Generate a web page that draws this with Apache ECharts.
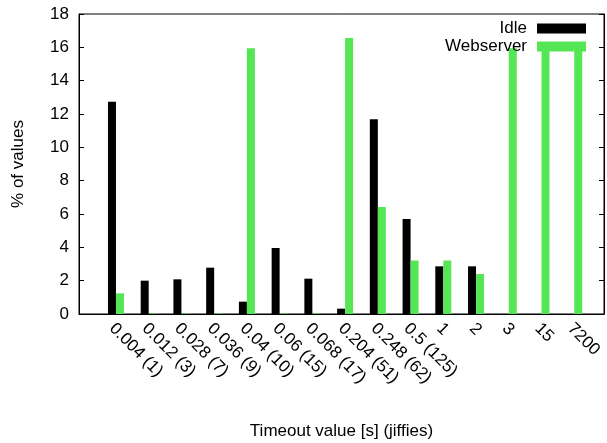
<!DOCTYPE html>
<html><head><meta charset="utf-8">
<script src="https://cdn.jsdelivr.net/npm/echarts@6/dist/echarts.min.js"></script>
<style>html,body{margin:0;padding:0;background:#fff}#c{width:607px;height:443px}</style>
</head><body><div id="c"></div>
<script>
const categories = ['0.004 (1)','0.012 (3)','0.028 (7)','0.036 (9)','0.04 (10)','0.06 (15)','0.068 (17)','0.204 (51)','0.248 (62)','0.5 (125)','1','2','3','15','7200'];
const idle = [12.74, 2.0, 2.08, 2.78, 0.74, 3.96, 2.12, 0.32, 11.68, 5.7, 2.86, 2.86, 0, 0, 0];
const webserver = [1.24, 0.03, 0.03, 0.03, 15.95, 0.03, 0.03, 16.56, 6.42, 3.21, 3.21, 2.4, 15.95, 16.05, 16.05];
const yMin = 0, yMax = 18, yStep = 2;

const FONT = 'Liberation Sans, Arial, Helvetica, sans-serif';
const TOP = 14, BOTTOM = 129;
const chart = echarts.init(document.getElementById('c'), null, {renderer: 'canvas'});
const hiddenY = (gi) => ({type:'value', gridIndex: gi, min: yMin, max: yMax, interval: yStep, show: false});
chart.setOption({
  animation: false,
  backgroundColor: '#fff',
  textStyle: {fontFamily: FONT},
  grid: [
    {left: 79, right: 3, top: TOP, bottom: BOTTOM, show: true, borderColor: '#000', borderWidth: 1, backgroundColor: 'transparent', containLabel: false, outerBoundsMode: 'none'},
    {left: 95.6, right: 20.4, top: TOP, bottom: BOTTOM, containLabel: false, outerBoundsMode: 'none'},
    {left: 103.6, right: 12.4, top: TOP, bottom: BOTTOM, containLabel: false, outerBoundsMode: 'none'}
  ],
  legend: {
    orient: 'vertical', right: 21, top: 20, align: 'right', padding: 0,
    itemWidth: 49, itemHeight: 10, itemGap: 1,
    icon: 'rect',
    textStyle: {fontSize: 17, lineHeight: 17, color: '#000', fontFamily: FONT, padding: [0, 5, 0, 0]},
    data: ['Idle', 'Webserver']
  },
  xAxis: [
    {type: 'value', gridIndex: 0, min: 0, max: 1, axisLabel: {show: false}, axisTick: {show: false}, splitLine: {show: false},
     axisLine: {show: true, lineStyle: {color: '#000', width: 1}},
     name: 'Timeout value [s] (jiffies)', nameLocation: 'middle', nameGap: 109,
     nameTextStyle: {fontSize: 17, color: '#000', fontFamily: FONT}},
    {type: 'category', gridIndex: 1, data: categories, axisLine: {show: false}, axisTick: {show: false},
     axisLabel: {interval: 0, rotate: -45, fontSize: 17, color: '#000', margin: 12, fontFamily: FONT}},
    {type: 'category', gridIndex: 2, data: categories, show: false}
  ],
  yAxis: [
    {type: 'value', gridIndex: 0, min: yMin, max: yMax, interval: yStep, position: 'left',
     axisLine: {show: true, lineStyle: {color: '#000', width: 1}},
     axisTick: {show: true, inside: true, length: 5, lineStyle: {color: '#000'}},
     axisLabel: {fontSize: 17, color: '#000', margin: 10, fontFamily: FONT},
     splitLine: {show: false},
     name: '% of values', nameLocation: 'middle', nameGap: 52, nameRotate: 90,
     nameTextStyle: {fontSize: 17, color: '#000', fontFamily: FONT}},
    {type: 'value', gridIndex: 0, min: yMin, max: yMax, interval: yStep, position: 'right',
     axisLine: {show: true, lineStyle: {color: '#000', width: 1}},
     axisTick: {show: true, inside: true, length: 5, lineStyle: {color: '#000'}},
     axisLabel: {show: false}, splitLine: {show: false}},
    hiddenY(1),
    hiddenY(2)
  ],
  series: [
    {name: 'Idle', type: 'bar', xAxisIndex: 1, yAxisIndex: 2, data: idle, barWidth: 8, itemStyle: {color: '#000'}},
    {name: 'Webserver', type: 'bar', xAxisIndex: 2, yAxisIndex: 3, data: webserver, barWidth: 8, itemStyle: {color: '#55e655'}}
  ]
});
</script></body></html>
